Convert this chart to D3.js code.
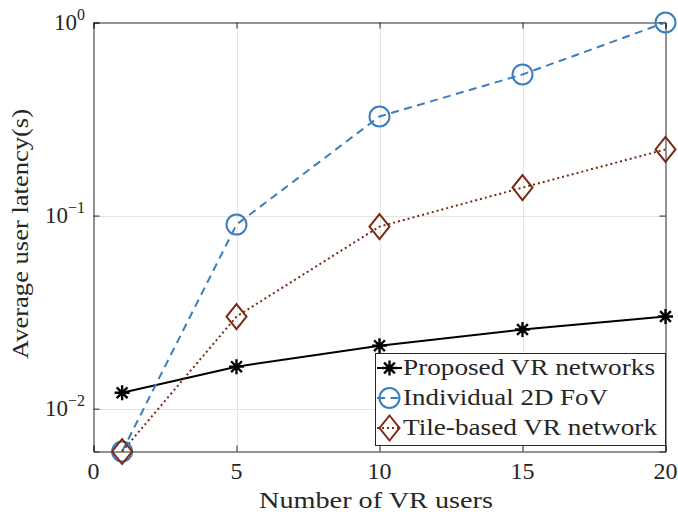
<!DOCTYPE html>
<html><head><meta charset="utf-8">
<script src="https://cdn.jsdelivr.net/npm/d3@7"></script>
<style>body{margin:0;background:#fff} text{font-family:"Liberation Serif","Times New Roman",serif;fill:#262626}</style>
</head><body><svg id="c" width="678" height="515"></svg>
<script>
const users=[1,5,10,15,20];
const proposed=[0.0121,0.0165,0.0212,0.0257,0.0300];
const individual=[0.0060,0.0898,0.326,0.538,1.0];
const tile=[0.0060,0.0300,0.0877,0.1396,0.220];
const xTicks=[0,5,10,15,20];
const yTicks=[0.01,0.1,1];
const yTickExp=["\u22122","\u22121","0"];
const seriesNames=["Proposed VR networks","Individual 2D FoV","Tile-based VR network"];
const xLabel="Number of VR users", yLabel="Average user latency(s)";

const L=93.5,R=665.5,T=22.5,B=451.5;
const svg=d3.select("#c");
const x=d3.scaleLinear().domain([0,20]).range([L,R]);
const y=d3.scaleLog().domain([0.006,1]).range([B,T]);
const axisCol="#262626", gridCol="#e4e4e4";
const blue="#3b7ebf", brown="#7a2914";

// grid
svg.append("g").selectAll("line").data(xTicks.slice(1,-1)).join("line")
 .attr("x1",d=>Math.round(x(d))+0.5).attr("x2",d=>Math.round(x(d))+0.5).attr("y1",T).attr("y2",B)
 .attr("stroke",gridCol).attr("stroke-width",1);
svg.append("g").selectAll("line").data(yTicks.slice(0,-1)).join("line")
 .attr("y1",d=>Math.round(y(d))+0.5).attr("y2",d=>Math.round(y(d))+0.5).attr("x1",L).attr("x2",R)
 .attr("stroke",gridCol).attr("stroke-width",1);

// axes via d3
const tl=6;
const gx=svg.append("g").attr("transform",`translate(0,${B})`)
 .call(d3.axisBottom(x).tickValues(xTicks).tickSize(-tl).tickFormat(""));
const gxt=svg.append("g").attr("transform",`translate(0,${T})`)
 .call(d3.axisTop(x).tickValues(xTicks).tickSize(-tl).tickFormat(""));
const gy=svg.append("g").attr("transform",`translate(${L},0)`)
 .call(d3.axisLeft(y).tickValues(yTicks).tickSize(-tl).tickFormat(""));
const gyr=svg.append("g").attr("transform",`translate(${R},0)`)
 .call(d3.axisRight(y).tickValues(yTicks).tickSize(-tl).tickFormat(""));
[gx,gxt,gy,gyr].forEach(g=>{g.selectAll("path").attr("stroke",axisCol).attr("stroke-width",1);
 g.selectAll("line").attr("stroke",axisCol).attr("stroke-width",1);});

// tick labels
svg.append("g").selectAll("text").data(xTicks).join("text")
 .attr("x",d=>x(d)).attr("y",479).attr("text-anchor","middle").attr("font-size",23)
 .attr("textLength",d=>String(d).length*12).attr("lengthAdjust","spacingAndGlyphs").text(d=>d);
const yl=svg.append("g").selectAll("text").data(yTicks).join("text")
 .attr("x",85).attr("y",d=>y(d)+7).attr("text-anchor","end").attr("font-size",23);
yl.append("tspan").text("10");
yl.append("tspan").attr("dy",-10).attr("font-size",16).text((d,i)=>yTickExp[i]);

// axis labels
svg.append("text").attr("x",376).attr("y",508).attr("text-anchor","middle").attr("font-size",23)
 .attr("textLength",234).attr("lengthAdjust","spacingAndGlyphs").text(xLabel);
svg.append("text").attr("transform",`translate(28,234) rotate(-90)`).attr("text-anchor","middle").attr("font-size",23)
 .attr("textLength",250).attr("lengthAdjust","spacingAndGlyphs").text(yLabel);

// lines
const line=d3.line().x((d,i)=>x(users[i])).y(d=>y(d));
const series=[
 {v:proposed,c:"#000",dash:null,m:"star"},
 {v:individual,c:blue,dash:"8,5.5",m:"circle"},
 {v:tile,c:brown,dash:"2,3",m:"diamond"}];
function marker(g,type,c){
 if(type==="star"){
  const r=7.5, r2=r*0.72;
  g.append("path").attr("d",`M${-r},0H${r}M0,${-r}V${r}M${-r2},${-r2}L${r2},${r2}M${-r2},${r2}L${r2},${-r2}`)
   .attr("stroke",c).attr("stroke-width",2.4).attr("fill","none");
 } else if(type==="circle"){
  g.append("circle").attr("r",10).attr("stroke",c).attr("stroke-width",2).attr("fill","none");
 } else {
  g.append("path").attr("d","M0,-12.5L10,0L0,12.5L-10,0Z").attr("stroke",c).attr("stroke-width",2).attr("fill","none");
 }
}
series.forEach(s=>{
 svg.append("path").datum(s.v).attr("d",line).attr("fill","none").attr("stroke",s.c)
  .attr("stroke-width",2).attr("stroke-dasharray",s.dash);
});
series.forEach(s=>{
 s.v.forEach((v,i)=>{marker(svg.append("g").attr("transform",`translate(${x(users[i])},${y(v)})`),s.m,s.c);});
});

// legend
const legendW=[252,205,254];
const lg=svg.append("g");
lg.append("rect").attr("x",375.5).attr("y",353.5).attr("width",290).attr("height",92)
 .attr("fill","#fff").attr("stroke",axisCol).attr("stroke-width",1);
series.forEach((s,i)=>{
 const yy=368+i*30;
 lg.append("line").attr("x1",377).attr("x2",402).attr("y1",yy).attr("y2",yy).attr("stroke",s.c)
  .attr("stroke-width",2).attr("stroke-dasharray",s.dash);
 marker(lg.append("g").attr("transform",`translate(389.5,${yy})`),s.m,s.c);
 lg.append("text").attr("x",403).attr("y",yy+7).attr("font-size",23)
  .attr("textLength",legendW[i]).attr("lengthAdjust","spacingAndGlyphs").text(seriesNames[i]);
});
</script></body></html>
